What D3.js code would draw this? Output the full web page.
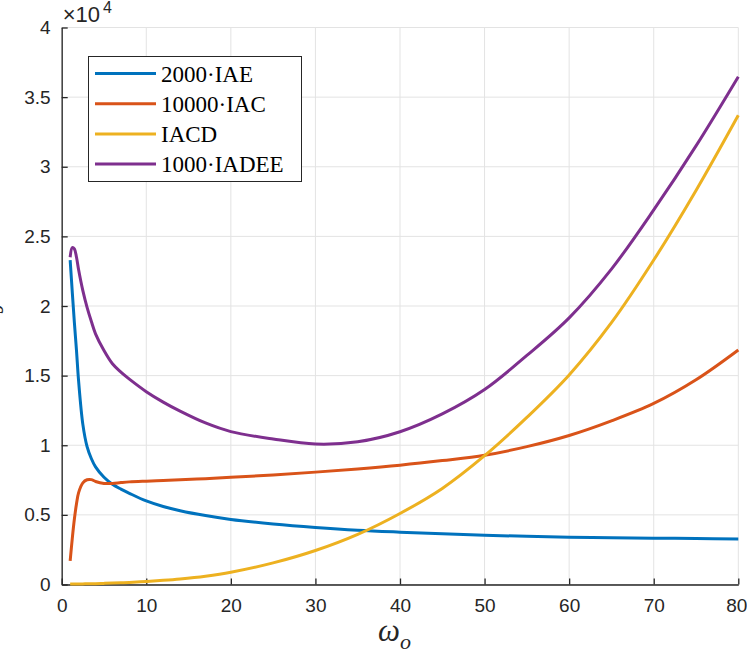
<!DOCTYPE html>
<html>
<head>
<meta charset="utf-8">
<script src="https://cdn.jsdelivr.net/npm/d3@7"></script>
<style>
  html, body { margin: 0; padding: 0; background: #fff; }
  svg { display: block; }
</style>
</head>
<body>
<div id="chart"></div>
<script>
// omega_o samples (x axis)
const omega = [1, 1.25, 1.5, 1.75, 2, 2.5, 3, 3.5, 4, 5, 6, 7, 8, 10, 12, 14, 17, 20, 25, 30, 35, 40, 45, 50, 55, 60, 65, 70, 75, 80];

// values in units of 10^4
const iae2000 = [2.33, 2.10, 1.88, 1.68, 1.46, 1.15, 0.99, 0.905, 0.845, 0.77, 0.72, 0.685, 0.655, 0.60, 0.56, 0.53, 0.495, 0.467, 0.435, 0.41, 0.39, 0.376, 0.364, 0.354, 0.346, 0.340, 0.336, 0.333, 0.330, 0.327];
const iac10000 = [0.17, 0.33, 0.47, 0.58, 0.66, 0.73, 0.752, 0.753, 0.740, 0.726, 0.726, 0.732, 0.737, 0.742, 0.746, 0.752, 0.76, 0.77, 0.787, 0.807, 0.83, 0.857, 0.89, 0.928, 0.99, 1.07, 1.175, 1.30, 1.47, 1.684];
const iacd = [0.003, 0.003, 0.003, 0.003, 0.004, 0.004, 0.005, 0.005, 0.006, 0.008, 0.01, 0.012, 0.015, 0.022, 0.03, 0.04, 0.06, 0.088, 0.155, 0.244, 0.36, 0.51, 0.69, 0.925, 1.20, 1.505, 1.88, 2.33, 2.83, 3.37];
const iadee1000 = [2.35, 2.42, 2.41, 2.35, 2.26, 2.11, 1.99, 1.89, 1.80, 1.68, 1.585, 1.525, 1.475, 1.385, 1.31, 1.245, 1.16, 1.098, 1.045, 1.009, 1.025, 1.097, 1.225, 1.40, 1.645, 1.915, 2.265, 2.69, 3.15, 3.647];

const seriesNames = ['2000·IAE', '10000·IAC', 'IACD', '1000·IADEE'];
const seriesColors = ['#0072BD', '#D95319', '#EDB120', '#7E2F8E'];
const xTicks = [0, 10, 20, 30, 40, 50, 60, 70, 80];
const yTicks = [0, 0.5, 1, 1.5, 2, 2.5, 3, 3.5, 4];

const size = { width: 747, height: 658 };
const margin = { left: 61.7, top: 27.5, right: 8.7, bottom: 73.5 };

const svg = d3.select('#chart').append('svg')
  .attr('width', size.width)
  .attr('height', size.height);

const x = d3.scaleLinear()
  .domain([0, 80])
  .range([margin.left, size.width - margin.right]);
const y = d3.scaleLinear()
  .domain([0, 4])
  .range([size.height - margin.bottom, margin.top]);

const axisColor = '#262626';
const sans = "'Liberation Sans', Arial, Helvetica, sans-serif";
const serif = "'Liberation Serif', 'Times New Roman', serif";

// grid
const grid = svg.append('g');
xTicks.forEach((t) => {
  grid.append('line')
    .attr('x1', x(t)).attr('x2', x(t))
    .attr('y1', y(0)).attr('y2', y(4))
    .attr('stroke', '#e3e3e3')
    .attr('stroke-width', 1);
});
yTicks.forEach((t) => {
  grid.append('line')
    .attr('x1', x(0)).attr('x2', x(80))
    .attr('y1', y(t)).attr('y2', y(t))
    .attr('stroke', '#e3e3e3')
    .attr('stroke-width', 1);
});

// axes, ticks pointing inward
svg.append('g')
  .attr('transform', `translate(0, ${y(0)})`)
  .call(d3.axisBottom(x).tickValues(xTicks).tickSizeInner(-6).tickSizeOuter(0).tickPadding(14))
  .call((g) => {
    g.select('.domain').attr('stroke', axisColor).attr('stroke-width', 1.3);
    g.selectAll('.tick line').attr('stroke', axisColor).attr('stroke-width', 1.3);
    g.selectAll('.tick text')
      .attr('fill', axisColor)
      .style('font-family', sans)
      .style('font-size', '19px');
    // last label sits right at the page edge
    g.selectAll('.tick text').filter((d) => d === 80).attr('dx', -2);
  });

svg.append('g')
  .attr('transform', `translate(${x(0)}, 0)`)
  .call(d3.axisLeft(y).tickValues(yTicks).tickSizeInner(-6).tickSizeOuter(0).tickPadding(11)
    .tickFormat((d) => String(d)))
  .call((g) => {
    g.select('.domain').attr('stroke', axisColor).attr('stroke-width', 1.3);
    g.selectAll('.tick line').attr('stroke', axisColor).attr('stroke-width', 1.3);
    g.selectAll('.tick text')
      .attr('fill', axisColor)
      .style('font-family', sans)
      .style('font-size', '19px');
  });

// exponent label
const expo = svg.append('text')
  .attr('x', x(0) + 1)
  .attr('y', 22)
  .attr('fill', axisColor)
  .style('font-family', sans)
  .style('font-size', '22px');
expo.append('tspan').text('×10');
expo.append('tspan').attr('dx', 3).attr('dy', -9).style('font-size', '16px').text('4');

// curves
const seriesValues = [iae2000, iac10000, iacd, iadee1000];
const line = d3.line()
  .x((d) => x(d[0]))
  .y((d) => y(d[1]))
  .curve(d3.curveCatmullRom.alpha(0.5));

seriesValues.forEach((vals, i) => {
  svg.append('path')
    .attr('d', line(omega.map((w, j) => [w, vals[j]])))
    .attr('fill', 'none')
    .attr('stroke', seriesColors[i])
    .attr('stroke-width', 3)
    .attr('stroke-linejoin', 'round');
});

// legend
const legend = svg.append('g');
legend.append('rect')
  .attr('x', 88.5).attr('y', 56.5)
  .attr('width', 213).attr('height', 125)
  .attr('fill', '#fff')
  .attr('stroke', axisColor)
  .attr('stroke-width', 1);
seriesNames.forEach((name, i) => {
  const cy = 73.5 + i * 30.2;
  legend.append('line')
    .attr('x1', 95).attr('x2', 156)
    .attr('y1', cy).attr('y2', cy)
    .attr('stroke', seriesColors[i])
    .attr('stroke-width', 3);
  legend.append('text')
    .attr('x', 161)
    .attr('y', cy + 8)
    .attr('fill', '#000')
    .style('font-family', serif)
    .style('font-size', '23px')
    .text(name);
});

// x label
const xl = svg.append('text')
  .attr('x', 378)
  .attr('y', 641)
  .attr('fill', axisColor)
  .style('font-family', serif)
  .style('font-style', 'italic')
  .style('font-size', '31px');
xl.append('tspan').text('ω');
xl.append('tspan').attr('dy', 8).style('font-size', '22px').text('o');

// y label, clipped at the left edge as in the figure
svg.append('text')
  .attr('transform', 'translate(3, 308) rotate(-90)')
  .attr('text-anchor', 'middle')
  .attr('fill', axisColor)
  .style('font-family', serif)
  .style('font-style', 'italic')
  .style('font-size', '26px')
  .text('J');
</script>
</body>
</html>
